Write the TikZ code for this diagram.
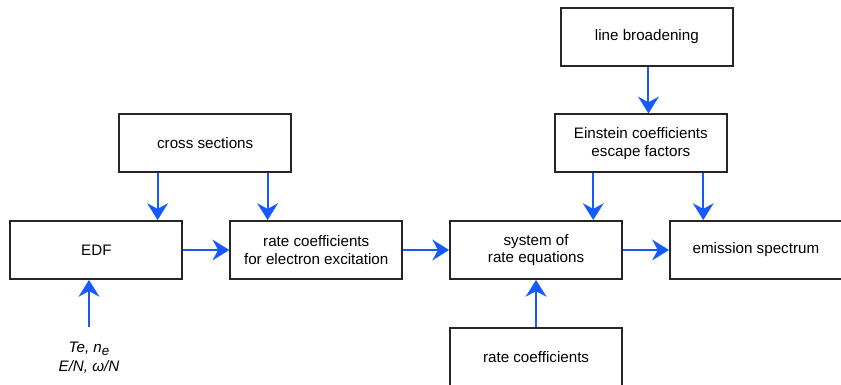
\documentclass[tikz,border=0pt]{standalone}
\usepackage{fontspec}
\setmainfont{Liberation Sans}
\usetikzlibrary{positioning,arrows.meta,calc}
\definecolor{flowblue}{RGB}{20,90,255}

\begin{document}
\begin{tikzpicture}[
    node distance = 1.17cm and 1.15cm,
    blk/.style = {rectangle, draw=black!85, line width=1.3pt, fill=white,
                  minimum width=4.3cm, minimum height=1.45cm, align=center,
                  font=\fontsize{10.8}{12.4}\selectfont, inner sep=0pt},
    arr/.style = {->, draw=flowblue, line width=1.4pt},
    >={Stealth[length=4.2mm, width=5.2mm, inset=1.4mm]}
]
\useasboundingbox (0,0) rectangle (21.025,-9.625);

% --- Main row ---
\node[blk] (edf) at (2.41,-6.25) {EDF};
\node[blk, right=of edf] (rate) {rate coefficients\\for electron excitation};
\node[blk, right=of rate] (sys) {system of\\rate equations};
\node[blk, right=of sys] (spec) {emission spectrum};

% --- Inputs above and below ---
\node[blk, above=of edf, xshift=2.72cm] (cross) {cross sections};
\node[blk, above=of sys, xshift=2.62cm] (einst) {Einstein coefficients\\escape factors};
\node[blk, above=of einst, xshift=0.15cm] (broad) {line broadening};
\node[blk, below=of sys] (ratec) {rate coefficients};
\node[font=\fontsize{10.8}{12.4}\selectfont\itshape, align=center] (par) at (2.225,-8.95)
     {Te, n\raisebox{-2.2pt}{\fontsize{9.5}{10}\selectfont e}\\[1pt]E/N, ω/N};

% --- Arrow start points ---
\coordinate (c1) at ([xshift=-1.19cm]cross.south);
\coordinate (c2) at ([xshift=1.56cm]cross.south);
\coordinate (e1) at ([xshift=-1.19cm]einst.south);
\coordinate (e2) at ([xshift=1.56cm]einst.south);
\coordinate (b1) at ([xshift=0.04cm]broad.south);
\coordinate (p1) at (2.225,-8.18);

% --- Arrows ---
\draw[arr] (c1) -- (c1 |- edf.north);
\draw[arr] (c2) -- (c2 |- rate.north);
\draw[arr] (edf) -- (rate);
\draw[arr] (rate) -- (sys);
\draw[arr] (sys) -- (spec);
\draw[arr] (b1) -- (b1 |- einst.north);
\draw[arr] (e1) -- (e1 |- sys.north);
\draw[arr] (e2) -- (e2 |- spec.north);
\draw[arr] (ratec) -- (sys);
\draw[arr] (p1) -- (p1 |- edf.south);

\end{tikzpicture}
\end{document}
